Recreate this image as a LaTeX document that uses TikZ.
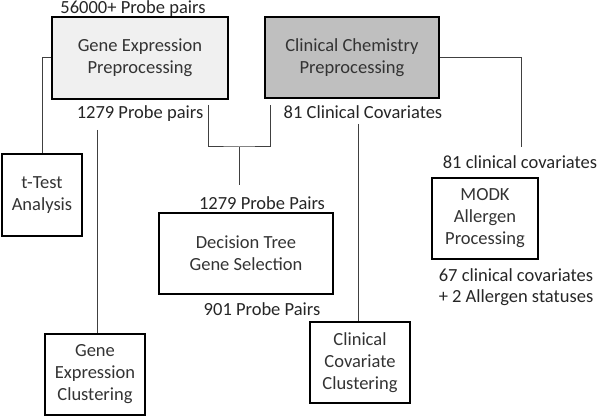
\documentclass[tikz,border=0pt]{standalone}
\usepackage{fontspec}
\setmainfont{Carlito}
\begin{document}
\begin{tikzpicture}[x=1pt,y=-1pt,
  every node/.style={font=\fontsize{18.5}{22}\selectfont, text=black!85},
  box/.style={draw=black, line width=2pt, align=center, inner sep=0pt, text=black!80},
  lbl/.style={anchor=base, inner sep=0pt},
  conn/.style={draw=black!75, line width=1pt}]
\useasboundingbox (0,0) rectangle (600,417);
% boxes
\node[box, fill=black!6, minimum width=176, minimum height=82] (gep) at (140,58) {Gene Expression\\Preprocessing};
\node[box, fill=black!25, minimum width=174, minimum height=81] (ccp) at (352,57.5) {Clinical Chemistry\\Preprocessing};
\node[box, minimum width=80, minimum height=81] (tt) at (42,195) {t-Test\\Analysis};
\node[box, minimum width=100, minimum height=81] (gec) at (95,374.5) {Gene\\Expression\\Clustering};
\node[box, minimum width=174, minimum height=81] (dt) at (246,253.5) {Decision Tree\\Gene Selection};
\node[box, minimum width=100, minimum height=81] (ccc) at (360,362.5) {Clinical\\Covariate\\Clustering};
\node[box, minimum width=106, minimum height=81] (modk) at (485,218.5) {MODK\\Allergen\\Processing};
% labels
\node[lbl] (l56) at (133,14) {56000+ Probe pairs};
\node[lbl] (l1279a) at (140,119) {1279 Probe pairs};
\node[lbl] (l81a) at (363,119) {81 Clinical Covariates};
\node[lbl] (l81b) at (520,168) {81 clinical covariates};
\node[lbl] (l1279b) at (262,210) {1279 Probe Pairs};
\node[lbl] (l901) at (262,315) {901 Probe Pairs};
\node[lbl] (l67) at (516,281) {67 clinical covariates};
\node[lbl] (l2) at (516,302) {+ 2 Allergen statuses};
% connector points
\coordinate (a1) at (97,130);
\coordinate (m1) at (208,105);
\coordinate (m2) at (270,105);
\coordinate (m3) at (239,147);
\coordinate (m4) at (239,185);
\coordinate (c1) at (358,124);
\coordinate (r1) at (521,147);
% connectors
\draw[conn] (gep.west) -| (tt.north);
\draw[conn] (a1) -- (a1 |- gec.north);
\draw[conn] (m1) |- (m3) -| (m2);
\draw[conn] (m3) -- (m4);
\draw[conn] (c1) -- (c1 |- ccc.north);
\draw[conn] (ccp.east) -| (r1);
\end{tikzpicture}
\end{document}
